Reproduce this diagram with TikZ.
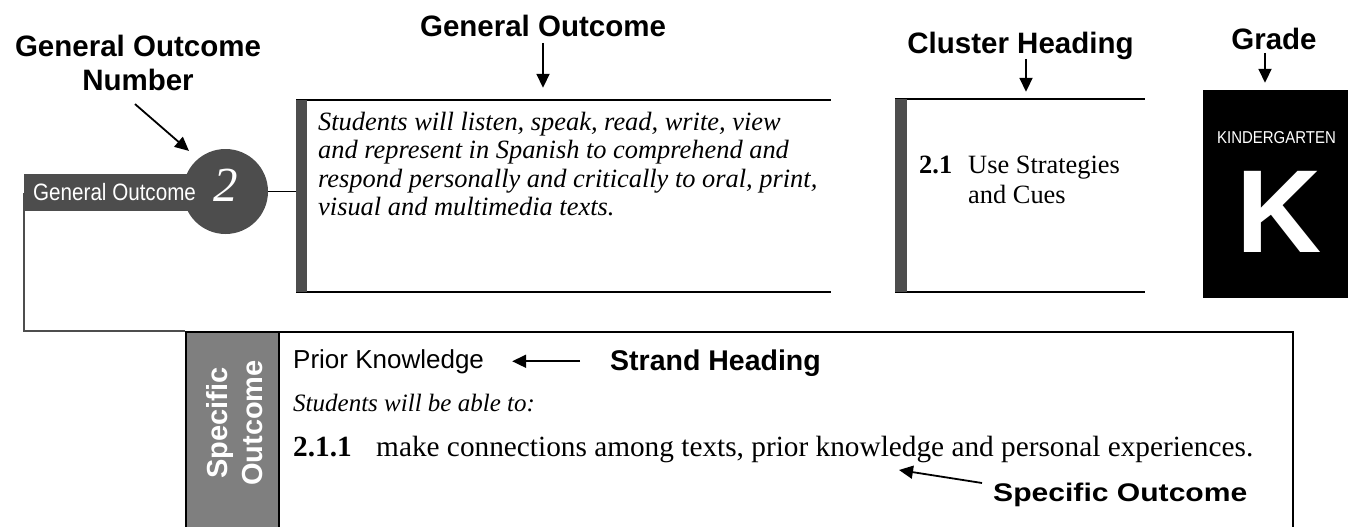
\documentclass[tikz,border=0pt]{standalone}
\usepackage{fontspec}
\setmainfont{Liberation Serif}
\setsansfont{Liberation Sans}
\newfontfamily\narrowsans{Liberation Sans}[FakeStretch=0.87]
\newfontfamily\widesans{Liberation Sans Bold}[FakeStretch=1.18]
\usetikzlibrary{positioning,arrows.meta,calc}
\definecolor{charcoal}{HTML}{4D4D4D}
\definecolor{midgray}{HTML}{7F7F7F}

\begin{document}
\begin{tikzpicture}[x=1pt, y=-1pt,
    callout/.style={font=\sffamily\bfseries\fontsize{29.5}{34}\selectfont, align=center, inner sep=0pt},
    pointer/.style={-{Triangle[length=14pt,width=13pt]}, line width=1.8pt},
    rule/.style={line width=1.8pt},
    plain/.style={inner sep=0pt, anchor=base west}]
    \useasboundingbox (0,0) rectangle (1354,527);

    % General outcome number
    \node[callout, anchor=north] (lblnum) at (138,35) {General Outcome\\Number};
    \node[anchor=west, fill=charcoal, minimum width=191pt, minimum height=37pt, inner sep=0pt]
          (gobar) at (24,192.5) {};
    \node[circle, fill=charcoal, minimum size=85pt, inner sep=0pt, text=white,
          font=\itshape\fontsize{49}{49}\selectfont, text height=20pt, text depth=0pt]
          (gonum) at (225.5,191.5) {2};
    \node[plain, text=white, font=\narrowsans\fontsize{23.7}{24}\selectfont] (gobartxt) at (33,200) {General Outcome};
    \draw[pointer, shorten >=12pt] ([shift={(-3,13)}]lblnum.south) -- (gonum.130);

    % General outcome box
    \node[minimum width=534pt, minimum height=192pt, inner sep=0pt] (gobox) at (563.5,196) {};
    \draw[rule] (gobox.north west) -- (gobox.north east);
    \draw[rule] (gobox.south west) -- (gobox.south east);
    \fill[charcoal] (gobox.north west) rectangle ([xshift=11pt]gobox.south west);
    \node[plain, font=\itshape\fontsize{26.4}{28.5}\selectfont] (gotext) at (318,130)
        {\begin{tabular}[t]{@{}l@{}}
         Students will listen, speak, read, write, view\\
         and represent in Spanish to comprehend and\\
         respond personally and critically to oral, print,\\
         visual and multimedia texts.
         \end{tabular}};
    \draw[rule] (gonum.east) -- (gonum.east -| gobox.west);
    \node[callout, anchor=base] (lblgo) at (543,37) {General Outcome};
    \draw[pointer, shorten <=6pt, shorten >=12pt] (lblgo.base) -- (lblgo.base |- gobox.north);

    % Cluster heading box
    \node[minimum width=250pt, minimum height=192.5pt, inner sep=0pt] (clbox) at (1020,195.75) {};
    \draw[rule] (clbox.north west) -- (clbox.north east);
    \draw[rule] (clbox.south west) -- (clbox.south east);
    \fill[charcoal] (clbox.north west) rectangle ([xshift=12pt]clbox.south west);
    \node[plain, font=\fontsize{26.4}{30}\selectfont] (cltext) at (919,173)
        {\begin{tabular}[t]{@{}l@{\hspace{16pt}}l@{}}
         \textbf{2.1} & Use Strategies\\
                      & and Cues
         \end{tabular}};
    \node[callout, anchor=base] (lblcl) at (1020.5,53) {Cluster Heading};
    \draw[pointer, shorten <=6pt, shorten >=7.5pt] ([xshift=5.5pt]lblcl.base) -- ([xshift=5.5pt]lblcl.base |- clbox.north);

    % Grade
    \node[fill=black, minimum width=145pt, minimum height=208pt, inner sep=0pt] (gradebox) at (1275.5,194) {};
    \node[anchor=base, inner sep=0pt, text=white, font=\narrowsans\fontsize{17.2}{18}\selectfont] (gradetxt) at (1276.5,143) {KINDERGARTEN};
    \node[anchor=base, inner sep=0pt, text=white, font=\sffamily\bfseries\fontsize{118}{118}\selectfont] (gradeK) at (1279,252) {K};
    \node[callout, anchor=base] (lblgrade) at (1274,50) {Grade};
    \draw[pointer, shorten <=3pt, shorten >=7pt] ([xshift=-9pt]lblgrade.base) -- ([xshift=-9pt]lblgrade.base |- gradebox.north);

    % Specific outcome box
    \node[draw, line width=2.4pt, minimum width=1107pt, minimum height=240pt, inner sep=0pt, anchor=north west] (sobox) at (185,331) {};
    \node[draw, fill=midgray, line width=2pt, minimum width=93pt, minimum height=240pt, inner sep=0pt, anchor=north west] (socol) at (185,331) {};
    \node[rotate=90, align=center, inner sep=0pt, text=white, font=\sffamily\bfseries\fontsize{29}{35}\selectfont] (socoltxt) at (235,423) {Specific\\Outcome};
    \draw[line width=1.3pt, charcoal] (gobar.west) |- (socol.north west);

    \node[plain, font=\sffamily\fontsize{26}{28}\selectfont] (strand) at (293,368) {Prior Knowledge};
    \node[plain, font=\sffamily\bfseries\fontsize{28.5}{30}\selectfont] (lblstrand) at (610,370) {Strand Heading};
    \draw[pointer, shorten <=30pt, shorten >=28pt] (strand.east -| lblstrand.west) -- (strand.east);

    \node[plain, font=\itshape\fontsize{25}{28}\selectfont] (able) at (293,411) {Students will be able to:};
    \node[plain, font=\bfseries\fontsize{29.3}{30}\selectfont] (sonum) at (293,456) {2.1.1};
    \node[inner sep=0pt, font=\fontsize{29.3}{30}\selectfont, base right=24pt of sonum] (sotext)
        {make connections among texts, prior knowledge and personal experiences.};

    \node[plain, font=\widesans\fontsize{25.5}{26}\selectfont] (lblso) at (993,501) {Specific Outcome};
    \coordinate (sotip) at (899,470);
    \draw[pointer] ([shift={(-11,-18)}]lblso.base west) -- (sotip);
\end{tikzpicture}
\end{document}
